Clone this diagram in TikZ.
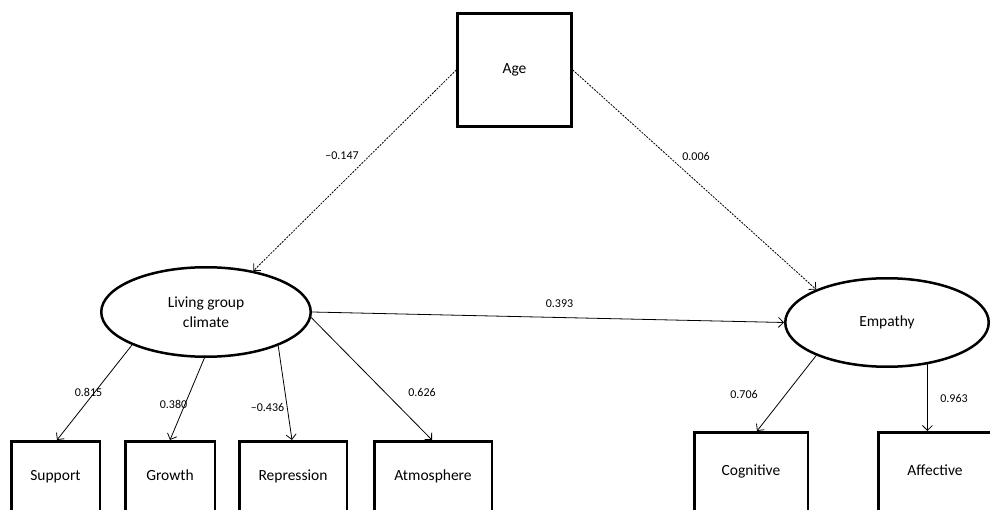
\documentclass[tikz,border=0pt]{standalone}
\usepackage{fontspec}
\setmainfont{Carlito}
\usetikzlibrary{shapes.geometric,arrows.meta,calc}
\begin{document}
\begin{tikzpicture}[x=1pt,y=-1pt,
  obs/.style={draw, line width=2.5pt, inner sep=0pt, text height=10.5pt, text depth=3.5pt, font=\fontsize{15.5}{20}\selectfont},
  latent/.style={ellipse, draw, line width=2.5pt, inner sep=0pt, align=center, font=\fontsize{15.5}{20}\selectfont},
  path/.style={line width=0.8pt, -{Straight Barb[length=5pt,width=10pt,line width=0.8pt]}},
  dpath/.style={path, dash pattern=on 2pt off 1.2pt},
  coef/.style={font=\fontsize{12}{14}\selectfont, inner sep=0pt}]
\useasboundingbox (0,0) rectangle (990,510);
\clip (0,0) rectangle (990,510);
% nodes
\node[obs, minimum width=114pt, minimum height=113pt] (age) at (514.5,70) {Age};
\node[latent, minimum width=209.5pt, minimum height=89.5pt] (lgc) at (206,312) {Living group\\climate};
\node[latent, minimum width=203.5pt, minimum height=88.5pt] (emp) at (887,322.5) {Empathy};
\node[obs, minimum width=88.5pt, minimum height=71.5pt] (sup) at (55.5,477) {Support};
\node[obs, minimum width=89.5pt, minimum height=71.5pt] (gro) at (170,477) {Growth};
\node[obs, minimum width=107.5pt, minimum height=71.5pt] (rep) at (293,477) {Repression};
\node[obs, minimum width=117.5pt, minimum height=71.5pt] (atm) at (433,477) {Atmosphere};
\node[obs, minimum width=113.5pt, minimum height=79.5pt] (cog) at (751,472) {Cognitive};
\node[obs, minimum width=113.5pt, minimum height=79.5pt] (aff) at (935,472) {Affective};
% connectors
\draw[dpath] (age.west) -- (lgc.41);
\draw[dpath] (age.east) -- (emp.155);
\draw[path] (lgc.east) -- (emp.west);
\draw[path] (lgc.204.7) -- ($(sup.north)+(1.5,0)$);
\draw[path] (lgc.268) -- (gro.north);
\draw[path] (lgc.335) -- ($(rep.north)+(-1,0)$);
\draw[path] (lgc.357) -- ($(atm.north)+(-1,0)$);
\draw[path] (emp.205.3) -- ($(cog.north)+(6,0)$);
\draw[path] (emp.314) -- (emp.314 |- aff.north);
% coefficients
\node[coef] (c1) at (342,156) {–0.147};
\node[coef] (c2) at (696,156) {0.006};
\node[coef] (c3) at (559.5,304) {0.393};
\node[coef] (c4) at (88.5,392) {0.815};
\node[coef] (c5) at (173.5,404) {0.380};
\node[coef] (c6) at (267.5,407) {–0.436};
\node[coef] (c7) at (422,392) {0.626};
\node[coef] (c8) at (744,394) {0.706};
\node[coef] (c9) at (954,398) {0.963};
\end{tikzpicture}
\end{document}
